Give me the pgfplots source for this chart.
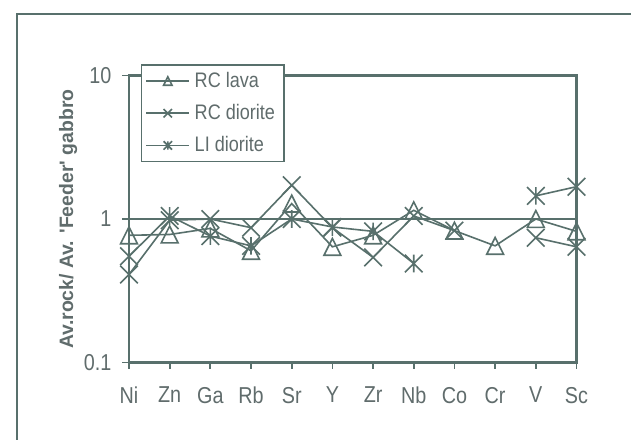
\documentclass[border=0pt]{standalone}
\usepackage{pgfplots}
\pgfplotsset{compat=1.18}
\usepackage{fontspec}
\setmainfont{Liberation Sans}[FakeStretch=0.86]
\newfontfamily\labelfont{Liberation Sans}

\definecolor{ink}{RGB}{88,112,108}
\definecolor{txt}{RGB}{96,108,108}

% open triangle, cross and eight-spoke star, sized by the mark size
\pgfdeclareplotmark{tri}{%
  \pgfpathmoveto{\pgfqpoint{0pt}{\pgfplotmarksize}}%
  \pgfpathlineto{\pgfqpoint{-\pgfplotmarksize}{-\pgfplotmarksize}}%
  \pgfpathlineto{\pgfqpoint{\pgfplotmarksize}{-\pgfplotmarksize}}%
  \pgfpathclose\pgfusepathqstroke}
\pgfdeclareplotmark{ex}{%
  \pgfpathmoveto{\pgfqpoint{-\pgfplotmarksize}{-\pgfplotmarksize}}%
  \pgfpathlineto{\pgfqpoint{\pgfplotmarksize}{\pgfplotmarksize}}%
  \pgfpathmoveto{\pgfqpoint{-\pgfplotmarksize}{\pgfplotmarksize}}%
  \pgfpathlineto{\pgfqpoint{\pgfplotmarksize}{-\pgfplotmarksize}}%
  \pgfusepathqstroke}
\pgfdeclareplotmark{exstar}{%
  \pgfpathmoveto{\pgfqpoint{-\pgfplotmarksize}{-\pgfplotmarksize}}%
  \pgfpathlineto{\pgfqpoint{\pgfplotmarksize}{\pgfplotmarksize}}%
  \pgfpathmoveto{\pgfqpoint{-\pgfplotmarksize}{\pgfplotmarksize}}%
  \pgfpathlineto{\pgfqpoint{\pgfplotmarksize}{-\pgfplotmarksize}}%
  \pgfpathmoveto{\pgfqpoint{0pt}{-\pgfplotmarksize}}%
  \pgfpathlineto{\pgfqpoint{0pt}{\pgfplotmarksize}}%
  \pgfusepathqstroke}

\begin{document}
\begin{tikzpicture}[x=1pt,y=1pt]
\useasboundingbox (0,0) rectangle (315.5,219.5);
\fill[white] (0,0) rectangle (315.5,219.5);
% chart-area border
\draw[ink, line width=1.1pt] (8.5,-5) -- (8.5,212.5) -- (330,212.5);
\begin{axis}[
  at={(64.5pt,38.25pt)}, anchor=south west,
  scale only axis, width=223.75pt, height=143.5pt,
  ymode=log, ymin=0.1, ymax=10,
  xmin=0, xmax=11, enlargelimits=false,
  xtick={0,...,11},
  xticklabels={Ni,Zn,Ga,Rb,Sr,Y,Zr,Nb,Co,Cr,V,Sc},
  ytick={0.1,1,10}, yticklabels={0.1,1,10},
  yminorticks=false,
  tick align=outside, xtick pos=left, ytick pos=left,
  major tick length=3.25pt,
  tick style={ink, line width=0.9pt},
  axis line style={ink, line width=1.1pt},
  % full plot-area frame, drawn beneath the series and the legend
  axis background/.style={draw=ink, line width=1.1pt},
  ymajorgrids, grid style={ink, line width=1.1pt},
  ticklabel style={font=\fontsize{11.5}{13}\selectfont, text=txt},
  xticklabel style={yshift=-5.5pt},
  yticklabel style={xshift=-2pt},
  ylabel={\labelfont\bfseries Av.rock/ Av. \textquotesingle Feeder\textquotesingle\ gabbro},
  ylabel style={at={(axis description cs:-0.136,0.5)}, anchor=center,
    font=\fontsize{9.7}{11}\selectfont, text=txt},
  unbounded coords=jump,
  legend image code/.code={%
    \draw[mark repeat=2,mark phase=2,#1,mark size=2.1pt]
      plot coordinates {(0pt,0pt) (10.75pt,0pt) (21.5pt,0pt)};},
  legend style={at={(axis description cs:0.026,1.040)}, anchor=north west,
    draw=ink, line width=0.9pt, fill=white,
    font=\fontsize{10.5}{12}\selectfont, text=txt,
    inner xsep=2pt, inner ysep=2.5pt, row sep=5pt,
    nodes={inner xsep=2.3pt, inner ysep=1pt},
    cells={anchor=west}},
]
\addplot[ink, line width=0.8pt, mark=tri, mark size=4.2pt] coordinates {
  (0,0.77) (1,0.78) (2,0.86) (3,0.60) (4,1.28) (5,0.64)
  (6,0.77) (7,1.15) (8,0.83) (9,0.65) (10,1.00) (11,0.82)};
\addlegendentry{RC lava}
\addplot[ink, line width=0.8pt, mark=ex, mark size=4.4pt] coordinates {
  (0,0.41) (1,0.98) (2,1.00) (3,0.87) (4,1.72) (5,0.87)
  (6,0.54) (7,1.05) (8,0.83) (9,nan) (10,0.74) (11,0.64)};
\addlegendentry{RC diorite}
\addplot[ink, line width=0.8pt, mark=exstar, mark size=4.4pt] coordinates {
  (0,0.55) (1,1.05) (2,0.76) (3,0.65) (4,1.00) (5,0.88)
  (6,0.82) (7,0.49) (8,nan) (9,nan) (10,1.45) (11,1.68)};
\addlegendentry{LI diorite}
\end{axis}
\end{tikzpicture}
\end{document}
